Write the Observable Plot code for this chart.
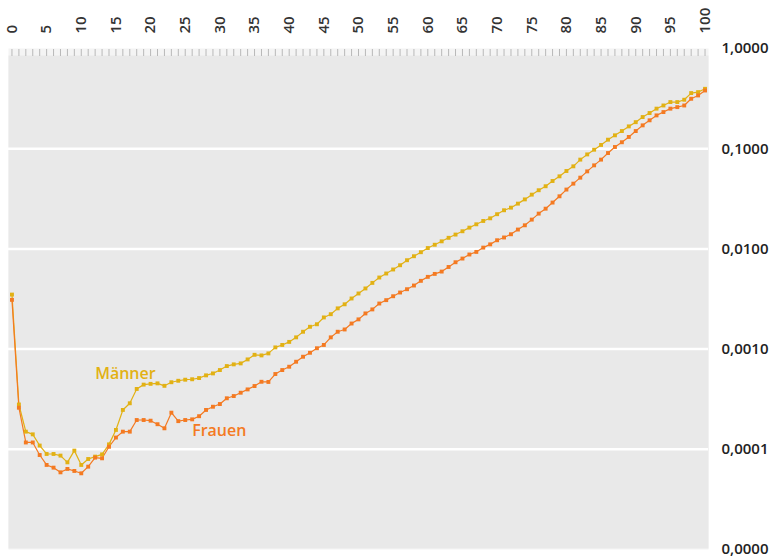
<!DOCTYPE html>
<html>
<head>
<meta charset="utf-8">
<script src="https://cdn.jsdelivr.net/npm/d3@7"></script>
<script src="https://cdn.jsdelivr.net/npm/@observablehq/plot@0.6"></script>
<style>
  body { margin: 0; background: #fff; }
</style>
</head>
<body>
<div id="chart"></div>
<script>
// Sterbewahrscheinlichkeit nach Alter (0–100 Jahre), logarithmische Skala
const ages = d3.range(0, 101);

const maenner = [
  0.0035, 0.00028, 0.00015, 0.000141, 0.000109, 0.0000898, 0.0000898, 0.0000865, 0.0000741, 0.000097,
  0.0000698, 0.00008, 0.0000845, 0.000089, 0.000112, 0.000156, 0.000247, 0.000288, 0.0004, 0.000442,
  0.00045, 0.000455, 0.00043, 0.000467, 0.000483, 0.000495, 0.0005, 0.000514, 0.000547, 0.000572,
  0.000618, 0.000677, 0.000704, 0.00072, 0.000789, 0.000877, 0.000865, 0.000906, 0.00104, 0.0011,
  0.00118, 0.00131, 0.00149, 0.00167, 0.00177, 0.00207, 0.00223, 0.00255, 0.0028, 0.0032,
  0.00359, 0.00403, 0.00458, 0.00518, 0.00568, 0.00623, 0.00687, 0.00771, 0.00845, 0.00927,
  0.0102, 0.011, 0.0119, 0.0129, 0.0139, 0.015, 0.0163, 0.0176, 0.019, 0.0202,
  0.0222, 0.0243, 0.0258, 0.0283, 0.0312, 0.0348, 0.0385, 0.0422, 0.0476, 0.053,
  0.0599, 0.0667, 0.0778, 0.0877, 0.0977, 0.109, 0.123, 0.136, 0.15, 0.167,
  0.184, 0.207, 0.227, 0.251, 0.27, 0.292, 0.292, 0.308, 0.359, 0.367,
  0.396
];

const frauen = [
  0.0031, 0.00026, 0.000117, 0.000117, 0.0000877, 0.0000698, 0.0000656, 0.0000589, 0.0000637, 0.0000608,
  0.0000576, 0.0000671, 0.0000826, 0.0000813, 0.000106, 0.000131, 0.00015, 0.00015, 0.000196, 0.000196,
  0.000193, 0.000178, 0.000162, 0.000232, 0.000191, 0.000196, 0.000199, 0.000214, 0.000247, 0.000266,
  0.000283, 0.000323, 0.00034, 0.000367, 0.000396, 0.000428, 0.000472, 0.00047, 0.000564, 0.000618,
  0.000667, 0.000748, 0.000839, 0.000919, 0.00102, 0.0011, 0.00131, 0.00149, 0.00157, 0.0018,
  0.00198, 0.00227, 0.00249, 0.00285, 0.00308, 0.00337, 0.00367, 0.00396, 0.00431, 0.0048,
  0.00526, 0.00563, 0.00594, 0.0066, 0.00736, 0.00801, 0.00879, 0.00933, 0.0103, 0.0111,
  0.0122, 0.013, 0.014, 0.0156, 0.0172, 0.0196, 0.0225, 0.0252, 0.029, 0.0335,
  0.0391, 0.0448, 0.0514, 0.0594, 0.0682, 0.0778, 0.0905, 0.104, 0.116, 0.131,
  0.15, 0.171, 0.192, 0.215, 0.232, 0.251, 0.26, 0.27, 0.315, 0.34,
  0.381
];

const xTickLabels = d3.range(0, 101, 5);
const yTickValues = [1, 0.1, 0.01, 0.001, 0.0001, 0.00001];

const seriesNames = ["Männer", "Frauen"];
const seriesColors = ["#e2b114", "#f47a22"];

// Beschriftung der beiden Kurven (Alter, Wert)
const seriesLabels = [
  {name: "Männer", age: 12, rate: 0.00056},
  {name: "Frauen", age: 26, rate: 0.000152}
];

const rows = [
  ...ages.map((a, i) => ({series: "Männer", age: a, rate: maenner[i]})),
  ...ages.map((a, i) => ({series: "Frauen", age: a, rate: frauen[i]}))
];

const fmt = d => d3.format(".4f")(d).replace(".", ",");

const chart = Plot.plot({
  width: 772,
  height: 558,
  marginLeft: 8,
  marginRight: 64,
  marginTop: 48,
  marginBottom: 9,
  style: {fontFamily: "'Open Sans', sans-serif", fontSize: "15px", background: "#fff"},
  x: {domain: [-0.5, 100.5], label: null},
  y: {type: "log", domain: [0.00001, 1], label: null},
  color: {domain: seriesNames, range: seriesColors},
  marks: [
    Plot.frame({fill: "#f4f4f4", stroke: null}),
    Plot.frame({fill: "#e9e9e9", stroke: null, insetTop: 7, insetBottom: 1}),
    Plot.ruleY(yTickValues.slice(1, -1), {stroke: "#fff", strokeWidth: 2.5}),
    Plot.axisX({anchor: "top", ticks: ages, tickSize: 7, dy: 7, text: null, label: null, stroke: "#b8b8b8"}),
    Plot.axisX(xTickLabels, {
      anchor: "top", tickSize: 0, tickPadding: 15, tickRotate: -90,
      fontWeight: 600, fontSize: 15, fill: "#333", label: null
    }),
    Plot.axisY(yTickValues, {
      anchor: "right", tickSize: 0, tickPadding: 60, textAnchor: "end",
      tickFormat: fmt, fontWeight: 600, fontSize: 15, fill: "#222", label: null
    }),
    Plot.line(rows, {x: "age", y: "rate", z: "series", stroke: "series", strokeWidth: 1.2}),
    Plot.dot(rows, {x: "age", y: "rate", fill: "series", symbol: "square", r: 2.2}),
    Plot.text(seriesLabels, {
      x: "age", y: "rate", text: "name", fill: d => d.name,
      textAnchor: "start", fontSize: 16, fontWeight: 600
    })
  ]
});

document.getElementById("chart").append(chart);
</script>
</body>
</html>
